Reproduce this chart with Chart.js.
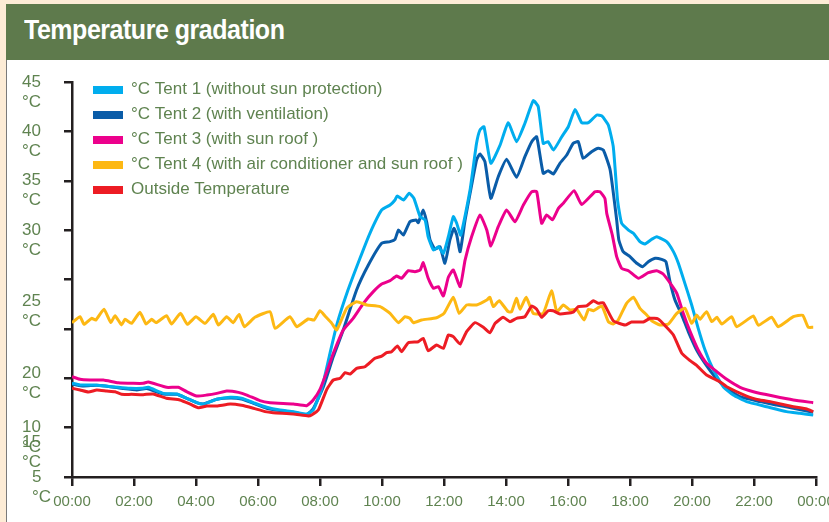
<!DOCTYPE html>
<html><head><meta charset="utf-8">
<script src="https://cdn.jsdelivr.net/npm/chart.js@4.4.1/dist/chart.umd.min.js"></script>
<style>
html,body{margin:0;padding:0;}
body{width:829px;height:522px;background:#fdecd6;position:relative;overflow:hidden;font-family:"Liberation Sans",Arial,sans-serif;}
#header{position:absolute;left:6px;top:4px;width:823px;height:56px;background:#5e7a4c;z-index:2;}
#title{position:absolute;left:18px;top:11px;color:#fff;font-weight:bold;font-size:27px;font-family:"Liberation Sans",Arial,sans-serif;letter-spacing:-0.5px;white-space:nowrap;transform:scaleX(0.925);transform-origin:0 50%;}
#panel{position:absolute;left:6px;top:60px;width:823px;height:462px;background:#fff;border-left:1px solid #7a7a7a;box-sizing:border-box;}
#wrap{position:absolute;left:0;top:0;width:829px;height:522px;z-index:1;}
</style></head>
<body>
<div id="panel"></div>
<div id="header"><div id="title">Temperature gradation</div></div>
<div id="wrap"><canvas id="c" width="829" height="522"></canvas></div>
<script>
// ---------- data ----------
const seriesLabels = ['°C Tent 1 (without sun protection)','°C Tent 2 (with ventilation)','°C Tent 3 (with sun roof )','°C Tent 4 (with air conditioner and sun roof )','Outside Temperature'];
const xTickLabels = ['00:00','02:00','04:00','06:00','08:00','10:00','12:00','14:00','16:00','18:00','20:00','22:00','00:00'];
const yLabelTexts = ['45','40','35','30','25','20','10','15','5'];
const yLabelAnchors = [45,40,35,30,22.75,15.5,10,8.5,5];

const hoursTent1 = [0,0.26,0.69,1.06,1.49,1.87,2.25,2.46,2.95,3.38,3.7,4.02,4.24,4.67,5.1,5.47,5.85,6.28,6.71,7.14,7.57,7.78,8.05,8.32,8.55,8.9,9.29,9.61,9.99,10.26,10.42,10.49,10.69,10.88,11.03,11.23,11.39,11.49,11.66,11.82,11.98,12.14,12.3,12.41,12.54,12.84,13.05,13.16,13.29,13.51,13.81,14.07,14.34,14.61,14.88,15.04,15.2,15.36,15.53,15.8,16.01,16.23,16.44,16.66,16.93,17.09,17.3,17.46,17.6,17.73,17.95,18.11,18.32,18.48,18.7,18.86,19.18,19.4,19.56,19.77,19.99,20.2,20.42,20.69,21.01,21.33,21.76,22.41,23.05,23.48,23.91];
const tempTent1 = [14.5,14.32,14.32,14.22,14.08,13.98,13.98,14.08,13.47,13.41,12.97,12.53,12.39,12.87,13.07,12.97,12.53,12.06,11.78,11.62,11.38,11.78,13.88,17.5,20.5,23.9,27.15,29.68,32.04,32.54,33.05,33.46,33.05,33.73,33.22,31.36,31.03,29.33,27.99,28.32,27.65,29.33,31.36,30.69,29.5,34.06,38.79,40.14,40.47,36.77,38.62,40.88,38.96,40.82,43.11,42.5,38.79,38.96,38.11,39.46,40.47,42.23,40.88,40.88,41.66,41.56,40.65,38.45,33.0,30.69,30.01,29.68,28.83,28.6,29.07,29.33,28.83,27.82,26.64,24.61,22.42,20.06,17.86,15.84,14.14,13.3,12.63,12.12,11.62,11.45,11.28];

const hoursTent2 = [0,0.37,0.8,1.23,1.66,2.09,2.41,2.95,3.38,3.7,4.02,4.24,4.67,5.1,5.47,5.85,6.28,6.71,7.14,7.57,7.78,8.11,8.43,8.75,9.18,9.56,9.99,10.26,10.42,10.53,10.69,10.9,11.1,11.17,11.33,11.44,11.55,11.71,11.87,12.03,12.19,12.32,12.41,12.52,12.68,12.84,13.05,13.16,13.32,13.51,13.75,14.02,14.34,14.61,14.83,14.99,15.2,15.36,15.53,15.74,15.96,16.17,16.33,16.49,16.76,16.98,17.14,17.36,17.57,17.64,17.78,18.0,18.22,18.41,18.59,18.81,19.02,19.16,19.29,19.45,19.67,19.88,20.15,20.42,20.74,21.12,21.55,22.19,22.73,23.27,23.91];
const tempTent2 = [14.42,14.22,14.29,14.15,13.95,13.81,13.95,13.41,13.37,12.97,12.53,12.39,12.87,13.0,12.9,12.46,11.96,11.72,11.55,11.31,11.9,14.14,17.19,19.89,23.94,26.47,28.67,28.83,29.07,30.01,29.51,30.85,31.03,30.75,32.04,30.85,29.0,28.06,28.32,26.64,29.0,30.18,29.51,27.82,31.03,33.7,37.1,37.71,36.93,33.22,35.41,37.17,35.35,37.44,38.96,39.46,35.75,36.02,35.68,36.77,37.61,38.79,38.96,37.27,37.94,38.29,38.11,36.09,31.03,29.0,27.82,27.31,26.64,26.3,26.8,27.15,27.04,26.8,24.78,22.92,21.4,19.72,17.86,16.51,15.16,13.98,13.13,12.63,12.29,11.96,11.55];

const hoursTent3 = [0,0.26,0.58,1.01,1.49,1.98,2.3,2.46,3.05,3.43,3.7,4.02,4.35,4.67,4.99,5.37,5.64,6.06,6.39,7.14,7.57,7.78,8.0,8.22,8.43,8.75,9.07,9.4,9.72,9.99,10.26,10.47,10.63,10.85,11.06,11.23,11.33,11.49,11.66,11.82,11.98,12.14,12.3,12.52,12.68,12.89,13.16,13.38,13.51,13.75,14.02,14.29,14.56,14.83,14.99,15.15,15.31,15.5,15.69,15.85,16.2,16.44,16.87,17.03,17.19,17.25,17.43,17.57,17.73,17.95,18.27,18.59,18.86,19.07,19.34,19.51,19.72,19.94,20.2,20.47,20.8,21.12,21.55,21.98,22.62,23.27,23.91];
const tempTent3 = [15.16,14.89,14.82,14.82,14.55,14.49,14.49,14.62,14.08,14.08,13.64,13.2,13.3,13.47,13.71,13.57,13.3,12.73,12.53,12.39,12.22,12.8,13.88,15.67,17.53,19.89,21.07,22.59,23.77,24.54,24.88,25.35,25.12,25.89,25.79,25.96,26.7,25.12,24.11,24.28,23.33,25.22,25.96,24.28,26.97,29.33,31.53,30.01,28.39,30.35,32.04,30.85,32.54,33.89,33.89,30.69,31.53,31.05,32.21,32.72,34.0,32.6,33.89,33.89,33.22,31.7,29.5,27.31,26.13,25.89,25.12,25.69,25.89,25.56,24.44,23.6,21.57,19.72,17.86,16.51,15.67,14.89,14.08,13.64,13.2,12.8,12.53];

const hoursTent4 = [0,0.26,0.39,0.63,0.77,1.03,1.25,1.39,1.6,1.71,1.92,2.19,2.39,2.57,2.71,3.05,3.21,3.5,3.72,4.0,4.29,4.56,4.72,4.99,5.2,5.39,5.56,5.9,6.39,6.55,7.03,7.25,7.62,7.81,8.0,8.16,8.38,8.54,8.86,9.18,9.51,9.94,10.26,10.53,10.74,10.9,11.01,11.28,11.76,12.0,12.3,12.49,12.73,13.05,13.38,13.48,13.59,13.78,14.07,14.18,14.34,14.45,14.65,14.88,15.2,15.47,15.64,15.85,16.06,16.28,16.52,16.66,16.82,17.09,17.3,17.46,17.62,17.89,18.11,18.32,18.54,18.7,18.97,19.24,19.51,19.77,19.99,20.15,20.26,20.47,20.64,20.8,20.96,21.28,21.44,21.98,22.14,22.57,22.78,23.27,23.57,23.75,23.91];
const tempTent4 = [20.63,21.23,20.46,21.07,20.9,21.98,20.66,21.33,20.4,20.97,20.56,21.68,20.5,20.97,20.63,21.33,20.5,21.57,20.46,21.23,20.56,21.47,20.4,21.23,20.63,21.47,20.22,21.17,21.74,20.05,21.23,20.22,21.0,20.9,21.84,21.3,20.56,19.89,22.08,22.75,22.42,22.25,21.57,20.63,21.23,21.07,20.63,20.9,21.13,21.57,23.2,21.57,22.42,22.42,22.92,23.2,22.25,22.85,21.74,21.74,23.1,21.98,23.2,21.57,21.57,23.87,21.74,22.42,21.91,21.98,20.9,21.98,21.84,22.32,20.73,20.5,20.9,22.59,23.2,22.08,21.4,20.83,20.39,20.5,21.57,22.08,20.56,21.4,20.97,21.74,20.73,21.17,20.5,21.23,20.22,21.3,20.36,21.17,20.22,21.23,21.37,20.16,20.16];

const hoursOutside = [0,0.26,0.53,0.8,1.12,1.39,1.6,1.92,2.3,2.62,3.05,3.48,3.81,4.07,4.35,4.67,5.1,5.47,5.85,6.23,6.49,7.14,7.62,7.73,7.95,8.22,8.43,8.65,8.81,8.97,9.18,9.45,9.77,9.99,10.15,10.31,10.5,10.63,10.85,11.17,11.33,11.49,11.76,11.98,12.14,12.3,12.52,12.73,13.0,13.27,13.48,13.65,13.91,14.13,14.34,14.61,14.83,14.99,15.15,15.36,15.52,15.74,16.17,16.33,16.6,16.82,16.98,17.14,17.46,17.84,18.05,18.43,18.65,18.91,19.18,19.4,19.67,19.94,20.15,20.47,20.9,21.12,21.76,22.19,22.52,23.27,23.7,23.91];
const tempOutside = [13.98,13.81,13.61,13.81,13.71,13.64,13.37,13.37,13.34,13.41,12.97,12.8,12.39,12.02,12.19,12.19,12.39,12.26,11.96,11.62,11.51,11.38,11.18,11.28,11.8,13.88,14.82,15.0,15.56,15.43,16.0,16.17,17.02,17.25,17.59,17.69,18.27,17.69,18.6,18.7,19.04,17.79,18.37,18.03,19.38,19.21,18.47,19.72,20.63,20.16,19.61,20.56,21.17,20.73,21.07,21.23,22.32,21.98,21.17,21.84,21.84,21.51,21.7,22.25,22.32,22.85,22.59,22.65,20.83,20.39,20.7,20.7,21.07,21.0,20.16,19.38,17.53,16.78,16.31,15.33,14.65,14.14,13.2,12.8,12.63,12.12,11.89,11.62];

// ---------- styles ----------
const COLORS = ['#00adee','#0a5ca8','#ec008c','#fdb813','#ed1c24'];
const LABEL_COLOR = '#5f8350';
const AXIS_COLOR = '#231f20';
const FONT = '"Liberation Sans", Arial, sans-serif';

const pairs = (hs, vs) => hs.map((h, i) => ({x: h, y: vs[i]}));
const seriesData = [
  pairs(hoursTent1, tempTent1),
  pairs(hoursTent2, tempTent2),
  pairs(hoursTent3, tempTent3),
  pairs(hoursTent4, tempTent4),
  pairs(hoursOutside, tempOutside)
];
const drawOrder = [3, 4, 2, 1, 0];

const yLabelPlugin = {
  id: 'yLabels',
  afterDraw(chart) {
    const ctx = chart.ctx, y = chart.scales.y, area = chart.chartArea;
    ctx.save();
    ctx.font = '17px ' + FONT;
    ctx.fillStyle = LABEL_COLOR;
    ctx.textAlign = 'left';
    ctx.textBaseline = 'middle';
    yLabelTexts.forEach((t, i) => {
      const py = y.getPixelForValue(yLabelAnchors[i]);
      const px = area.left - 50 + (i === yLabelTexts.length - 1 ? 10 : 0);
      ctx.fillText(t, px, py);
      ctx.fillText('°C', px, py + 20);
    });
    ctx.restore();
  }
};

const legendPlugin = {
  id: 'customLegend',
  afterDraw(chart) {
    const ctx = chart.ctx, area = chart.chartArea;
    ctx.save();
    ctx.font = '17px ' + FONT;
    ctx.textAlign = 'left';
    ctx.textBaseline = 'middle';
    seriesLabels.forEach((lab, i) => {
      const cy = area.top + 8 + i * 25;
      ctx.fillStyle = COLORS[i];
      ctx.fillRect(area.left + 21, cy - 4, 30, 8);
      ctx.fillStyle = LABEL_COLOR;
      ctx.fillText(lab, area.left + 59, cy - 1);
    });
    ctx.restore();
  }
};

new Chart(document.getElementById('c'), {
  type: 'line',
  data: {
    datasets: seriesLabels.map((lab, i) => ({
      label: lab,
      data: seriesData[i],
      borderColor: COLORS[i],
      backgroundColor: COLORS[i],
      borderWidth: 3,
      pointRadius: 0,
      tension: 0.15,
      fill: false,
      order: drawOrder[i]
    }))
  },
  options: {
    responsive: false,
    animation: false,
    devicePixelRatio: 1,
    layout: { padding: { left: 0, top: 82, right: 13, bottom: 0 } },
    plugins: { legend: { display: false }, title: { display: false }, tooltip: { enabled: false } },
    scales: {
      x: {
        type: 'linear', min: 0, max: 24,
        ticks: {
          stepSize: 2, autoSkip: false, maxRotation: 0,
          color: LABEL_COLOR, font: { family: FONT, size: 15 }, padding: 7,
          callback: (v, i) => xTickLabels[i]
        },
        grid: { display: true, drawOnChartArea: false, drawTicks: true, tickLength: 9, color: AXIS_COLOR, lineWidth: 2.5 },
        border: { display: true, color: AXIS_COLOR, width: 2.5 },
        afterFit: s => { s.height = 45; s.paddingLeft = 0; s.paddingRight = 0; }
      },
      y: {
        type: 'linear', min: 5, max: 45,
        ticks: { stepSize: 5, display: false },
        grid: { display: true, drawOnChartArea: false, drawTicks: true, tickLength: 8, color: AXIS_COLOR, lineWidth: 2.5 },
        border: { display: true, color: AXIS_COLOR, width: 2.5 },
        afterFit: s => { s.width = 72; }
      }
    }
  },
  plugins: [yLabelPlugin, legendPlugin]
});
</script>
</body></html>
